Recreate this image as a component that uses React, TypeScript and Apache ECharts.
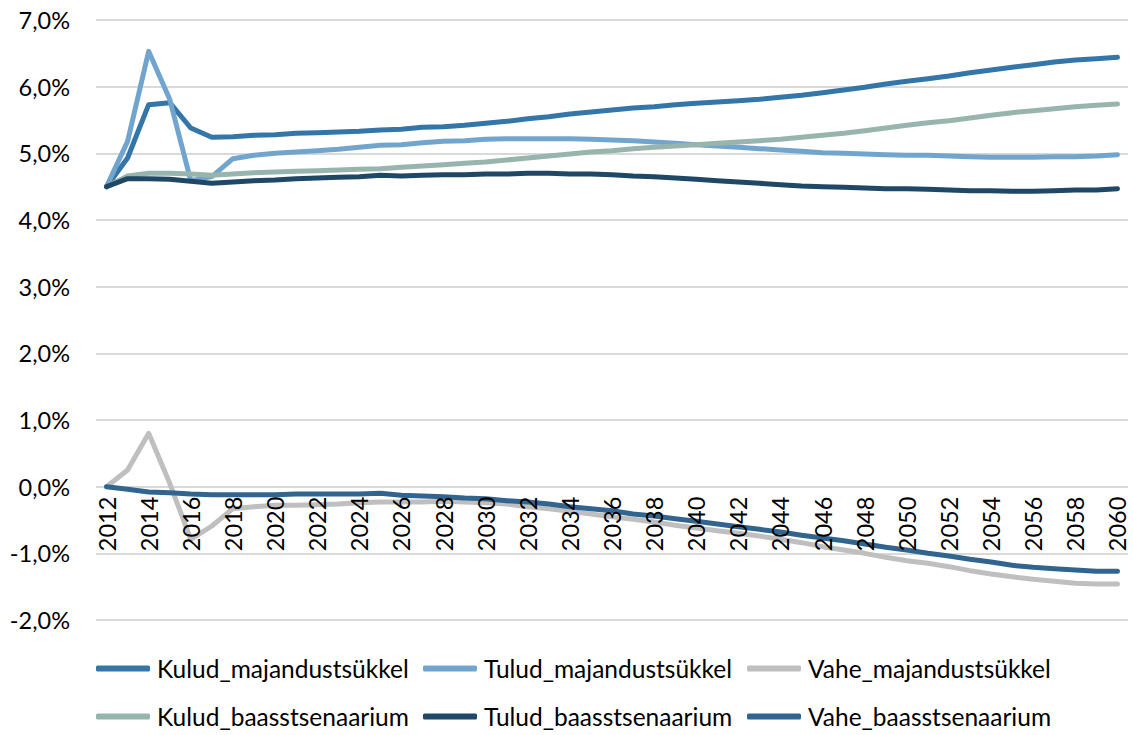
import React, { useEffect, useRef } from "react";
import * as echarts from "echarts";

const years: string[] = [];
for (let y = 2012; y <= 2060; y++) years.push(String(y));

const kuludMaj = [4.50,4.93,5.73,5.76,5.38,5.24,5.25,5.27,5.28,5.30,5.31,5.32,5.33,5.35,5.36,5.39,5.40,5.42,5.45,5.48,5.52,5.55,5.59,5.62,5.65,5.68,5.70,5.73,5.75,5.77,5.79,5.81,5.84,5.87,5.91,5.95,5.99,6.04,6.08,6.12,6.16,6.21,6.25,6.29,6.33,6.37,6.40,6.42,6.44];
const tuludMaj = [4.50,5.18,6.53,5.81,4.59,4.65,4.92,4.97,5.00,5.02,5.04,5.06,5.09,5.12,5.13,5.16,5.18,5.19,5.21,5.22,5.22,5.22,5.22,5.21,5.20,5.19,5.17,5.15,5.13,5.11,5.09,5.07,5.05,5.03,5.01,5.00,4.99,4.98,4.97,4.97,4.96,4.95,4.94,4.94,4.94,4.95,4.95,4.96,4.98];
const vaheMaj = [0.00,0.25,0.80,0.05,-0.79,-0.59,-0.33,-0.30,-0.28,-0.28,-0.27,-0.26,-0.24,-0.23,-0.23,-0.23,-0.22,-0.23,-0.24,-0.26,-0.30,-0.33,-0.37,-0.41,-0.45,-0.49,-0.53,-0.58,-0.62,-0.66,-0.70,-0.74,-0.79,-0.84,-0.90,-0.95,-1.00,-1.06,-1.11,-1.15,-1.20,-1.26,-1.31,-1.35,-1.39,-1.42,-1.45,-1.46,-1.46];
const kuludBaas = [4.50,4.66,4.70,4.70,4.69,4.67,4.69,4.71,4.72,4.73,4.74,4.75,4.76,4.77,4.79,4.81,4.83,4.85,4.87,4.90,4.93,4.96,4.99,5.02,5.04,5.07,5.09,5.11,5.13,5.15,5.17,5.19,5.21,5.24,5.27,5.30,5.34,5.38,5.42,5.46,5.49,5.53,5.57,5.61,5.64,5.67,5.70,5.72,5.74];
const tuludBaas = [4.50,4.62,4.62,4.61,4.58,4.55,4.57,4.59,4.60,4.62,4.63,4.64,4.65,4.67,4.66,4.67,4.68,4.68,4.69,4.69,4.70,4.70,4.69,4.69,4.68,4.66,4.65,4.63,4.61,4.59,4.57,4.55,4.53,4.51,4.50,4.49,4.48,4.47,4.47,4.46,4.45,4.44,4.44,4.43,4.43,4.44,4.45,4.45,4.47];
const vaheBaas = [0.00,-0.04,-0.08,-0.09,-0.11,-0.12,-0.12,-0.12,-0.12,-0.11,-0.11,-0.11,-0.11,-0.10,-0.13,-0.14,-0.15,-0.17,-0.18,-0.21,-0.23,-0.26,-0.30,-0.33,-0.36,-0.41,-0.44,-0.48,-0.52,-0.56,-0.60,-0.64,-0.68,-0.73,-0.77,-0.81,-0.86,-0.91,-0.95,-1.00,-1.04,-1.09,-1.13,-1.18,-1.21,-1.23,-1.25,-1.27,-1.27];

const seriesNames = [
  "Kulud_majandustsükkel",
  "Tulud_majandustsükkel",
  "Vahe_majandustsükkel",
  "Kulud_baasstsenaarium",
  "Tulud_baasstsenaarium",
  "Vahe_baasstsenaarium",
];
const seriesColors = ["#3476a8", "#72a5cd", "#bfbfbf", "#98b5ad", "#1f4766", "#31658f"];
const seriesData = [kuludMaj, tuludMaj, vaheMaj, kuludBaas, tuludBaas, vaheBaas];

const FONT = "Lato";

export default function App() {
  const ref = useRef<HTMLDivElement>(null);
  useEffect(() => {
    if (!ref.current) return;
    const chart = echarts.init(ref.current, null, { renderer: "svg" });
    const legendLeft = [96, 423, 747];
    const legendTop = [656, 704];
    const gridTop = 20;
    const gridBottom = 115;
    const plotH = 735 - gridTop - gridBottom;
    const zeroOffset = -(plotH * 2) / 9; // distance from bottom (-2%) up to 0%
    chart.setOption({
      animation: false,
      backgroundColor: "#ffffff",
      grid: { left: 96, right: 5, top: gridTop, bottom: gridBottom, containLabel: false },
      legend: seriesNames.map((n, i) => ({
        data: [n],
        left: legendLeft[i % 3],
        top: legendTop[Math.floor(i / 3)],
        icon: "roundRect",
        itemWidth: 54,
        itemHeight: 6,
        itemGap: 0,
        padding: 0,
        textStyle: { fontFamily: FONT, fontSize: 24.5, color: "#000", padding: [0, 0, 0, 2] },
      })),
      xAxis: {
        type: "category",
        data: years,
        boundaryGap: true,
        offset: zeroOffset,
        z: 10,
        axisLine: { show: false, onZero: false },
        axisTick: { show: false },
        axisLabel: {
          interval: 1,
          rotate: 90,
          margin: 10,
          fontFamily: FONT,
          fontSize: 23.5,
          color: "#000",
        },
      },
      yAxis: {
        type: "value",
        min: -2,
        max: 7,
        interval: 1,
        axisLine: { show: false },
        axisTick: { show: false },
        splitLine: { lineStyle: { color: "#d9d9d9", width: 2 } },
        axisLabel: {
          margin: 26,
          fontFamily: FONT,
          fontSize: 23.5,
          color: "#000",
          formatter: (v: number) => v.toFixed(1).replace(".", ",") + "%",
        },
      },
      series: seriesNames.map((n, i) => ({
        name: n,
        type: "line",
        data: seriesData[i],
        showSymbol: false,
        symbol: "none",
        color: seriesColors[i],
        lineStyle: { width: 5, color: seriesColors[i], cap: "round", join: "round" },
      })),
    });
    return () => chart.dispose();
  }, []);
  return <div ref={ref} style={{ width: 1133, height: 735, position: "absolute", left: 0, top: 0 }} />;
}
